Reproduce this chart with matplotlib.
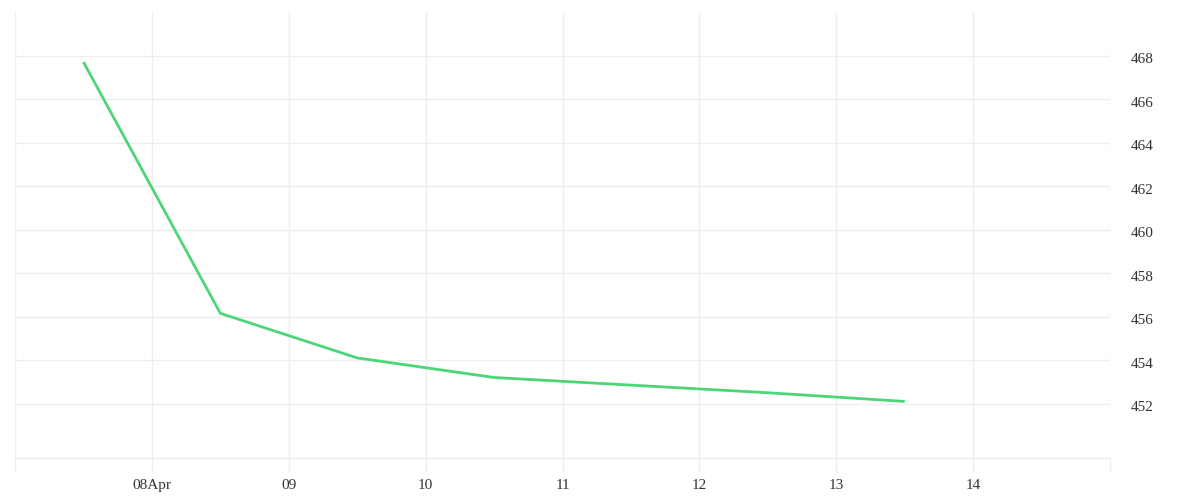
import numpy as np
import pandas as pd
import matplotlib
matplotlib.use("Agg")
import matplotlib.pyplot as plt
import matplotlib.transforms as mtransforms

# data
times = pd.to_datetime(["2024-04-07 12:00", "2024-04-08 12:00", "2024-04-09 12:00",
                        "2024-04-10 12:00", "2024-04-11 12:00", "2024-04-12 12:00",
                        "2024-04-13 12:00"])
values = [467.7, 456.15, 454.1, 453.2, 452.85, 452.5, 452.1]

tick_days = pd.date_range("2024-04-07", "2024-04-15", freq="D")
tick_labels = ["", "08Apr", "09", "10", "11", "12", "13", "14", ""]
y_ticks = [452, 454, 456, 458, 460, 462, 464, 466, 468]

grid_col = "#eeeeee"
text_col = "#333333"

plt.rcParams['font.family'] = ['Liberation Serif', 'DejaVu Serif']

fig = plt.figure(figsize=(12, 5), dpi=100)
ax = fig.add_axes([0.0125, 0.084, 0.9125, 0.892])

ax.plot(times, values, color="#4cd677", linewidth=2, solid_capstyle="butt")

ax.set_xlim(tick_days[0], tick_days[-1])
ax.set_ylim(449.5, 470.0)

ax.set_xticks(tick_days)
ax.set_xticklabels(tick_labels)
ax.set_yticks(y_ticks)
ax.set_yticklabels([str(v) for v in y_ticks])

ax.yaxis.tick_right()
ax.tick_params(axis="y", length=0, pad=15, labelsize=11, labelcolor=text_col)
ax.tick_params(axis="x", length=10, width=1, color=grid_col, pad=5,
               labelsize=11, labelcolor=text_col)
# nudge y labels a little below their gridlines
shift = mtransforms.ScaledTranslation(0, -0.025, fig.dpi_scale_trans)
for lbl in ax.get_yticklabels():
    lbl.set_transform(lbl.get_transform() + shift)

ax.grid(True, color=grid_col, linewidth=1)
ax.set_axisbelow(True)
for side in ["top", "left", "right"]:
    ax.spines[side].set_visible(False)
ax.spines["bottom"].set_color(grid_col)
ax.spines["bottom"].set_linewidth(1)

fig.savefig("out.png", dpi=100, facecolor="white")
